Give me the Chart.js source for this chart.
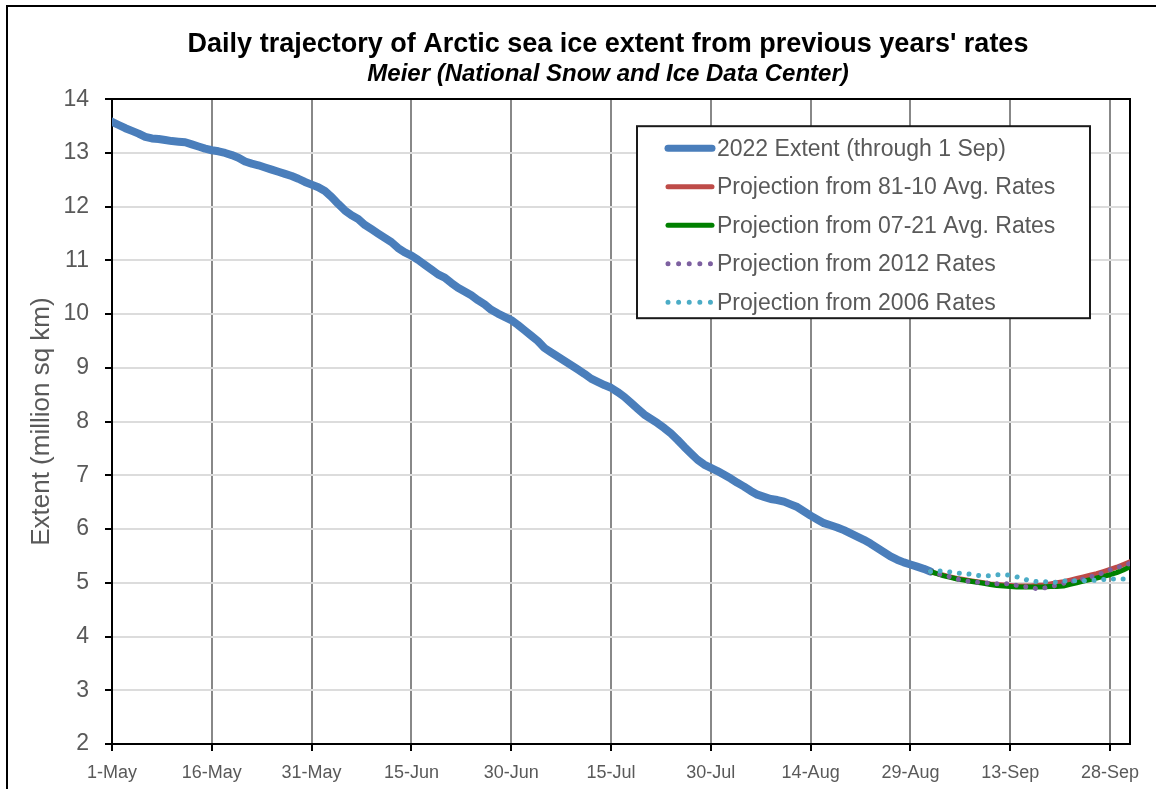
<!DOCTYPE html>
<html>
<head>
<meta charset="utf-8">
<title>Daily trajectory of Arctic sea ice extent</title>
<script src="https://cdn.jsdelivr.net/npm/chart.js@4.4.1/dist/chart.umd.min.js"></script>
<style>
  html, body { margin: 0; padding: 0; background: #fff; overflow: hidden; }
  #wrap { position: relative; width: 1156px; height: 789px; overflow: hidden; }
  #wrap canvas { position: absolute; left: 0; top: 0; }
  #frame { position: absolute; left: 6px; top: 5px; width: 1200px; height: 900px;
           border: 2px solid #000; pointer-events: none; }
</style>
</head>
<body>
<div id="wrap">
  <canvas id="chart" width="1156" height="789"></canvas>
  <div id="frame"></div>
</div>
<script>
// Day 0 = 1 May; the axis runs to 1 Oct (day 153).
const axisEndDay = 153;
const tickStepDays = 15;
const tickLabels = ['1-May', '16-May', '31-May', '15-Jun', '30-Jun', '15-Jul',
                    '30-Jul', '14-Aug', '29-Aug', '13-Sep', '28-Sep'];

// 2022 daily extent (million sq km), 1 May .. 1 Sep
const extent2022 = [
  13.58, 13.52, 13.46, 13.41, 13.36, 13.30, 13.27, 13.26, 13.24, 13.22,
  13.21, 13.20, 13.16, 13.12, 13.08, 13.05, 13.03, 13.00, 12.96, 12.91,
  12.84, 12.80, 12.77, 12.73, 12.69, 12.65, 12.61, 12.57, 12.52, 12.46,
  12.41, 12.36, 12.29, 12.18, 12.05, 11.93, 11.84, 11.77, 11.66, 11.58,
  11.50, 11.42, 11.34, 11.23, 11.15, 11.09, 11.01, 10.92, 10.83, 10.74,
  10.68, 10.58, 10.49, 10.42, 10.35, 10.26, 10.18, 10.08, 10.01, 9.95,
  9.89, 9.80, 9.70, 9.60, 9.50, 9.37, 9.29, 9.21, 9.13, 9.05,
  8.97, 8.89, 8.80, 8.74, 8.68, 8.63, 8.55, 8.46, 8.35, 8.24,
  8.13, 8.05, 7.97, 7.88, 7.78, 7.66, 7.53, 7.41, 7.29, 7.20,
  7.14, 7.08, 7.01, 6.94, 6.86, 6.79, 6.71, 6.64, 6.60, 6.56,
  6.54, 6.51, 6.46, 6.41, 6.33, 6.25, 6.18, 6.11, 6.07, 6.03,
  5.98, 5.92, 5.86, 5.80, 5.73, 5.65, 5.57, 5.49, 5.43, 5.38,
  5.34, 5.30, 5.26, 5.21
];

// Projections start on 1 Sep (day 123) and run to 1 Oct
const projectionStartDay = 123;
const proj8110 = [
  5.21, 5.17, 5.14, 5.11, 5.08, 5.06, 5.04, 5.02, 5.00, 4.98,
  4.97, 4.96, 4.95, 4.94, 4.94, 4.94, 4.95, 4.96, 4.98, 5.00,
  5.02, 5.05, 5.08, 5.11, 5.14, 5.17, 5.21, 5.25, 5.29, 5.34, 5.39
];
const proj0721 = [
  5.21, 5.17, 5.13, 5.10, 5.07, 5.05, 5.03, 5.01, 4.99, 4.97,
  4.95, 4.94, 4.93, 4.92, 4.92, 4.92, 4.92, 4.92, 4.93, 4.93,
  4.94, 4.97, 5.00, 5.03, 5.06, 5.09, 5.12, 5.15, 5.19, 5.24, 5.30
];
const proj2012 = [
  5.21, 5.17, 5.14, 5.11, 5.07, 5.04, 5.02, 5.01, 5.00, 4.99,
  4.98, 4.98, 4.98, 4.95, 4.93, 4.92, 4.89, 4.90, 4.93, 4.95,
  4.99, 5.03, 5.04, 5.07, 5.11, 5.14, 5.19, 5.24, 5.28, 5.32, 5.36
];
const proj2006 = [
  5.21, 5.22, 5.22, 5.20, 5.18, 5.17, 5.16, 5.14, 5.13, 5.13,
  5.15, 5.15, 5.14, 5.11, 5.07, 5.04, 5.02, 5.02, 5.02, 5.01,
  5.03, 5.04, 5.04, 5.04, 5.04, 5.05, 5.06, 5.07, 5.07, 5.07, 5.07
];

const seriesLabels = [
  '2022 Extent (through 1 Sep)',
  'Projection from 81-10 Avg. Rates',
  'Projection from 07-21 Avg. Rates',
  'Projection from 2012 Rates',
  'Projection from 2006 Rates'
];

const FONT = "'Liberation Sans', Arial, Helvetica, sans-serif";
const TEXT_GREY = '#595959';

const toPoints = (values, startDay) => values.map((v, i) => ({ x: startDay + i, y: v }));

// Framed legend inside the plot, drawn from the dataset styles
const boxLegend = {
  id: 'boxLegend',
  afterDraw(chart) {
    const { ctx, chartArea: ca } = chart;
    const w = 453, h = 192;
    const x0 = ca.right - 40 - w;
    const y0 = ca.top + 27;
    ctx.save();
    ctx.fillStyle = '#ffffff';
    ctx.fillRect(x0, y0, w, h);
    ctx.lineWidth = 2;
    ctx.strokeStyle = '#1a1a1a';
    ctx.strokeRect(x0, y0, w, h);
    ctx.font = '23px ' + FONT;
    ctx.textBaseline = 'middle';
    ctx.textAlign = 'left';
    chart.data.datasets.forEach((ds, i) => {
      const cy = y0 + 22 + i * 38.5;
      ctx.beginPath();
      ctx.strokeStyle = ds.borderColor;
      ctx.lineWidth = ds.legendLineWidth;
      ctx.lineCap = 'round';
      ctx.setLineDash(ds.borderDash ? [0.01, 10.6] : []);
      ctx.moveTo(x0 + 31, cy);
      ctx.lineTo(x0 + 75, cy);
      ctx.stroke();
      ctx.setLineDash([]);
      ctx.fillStyle = TEXT_GREY;
      ctx.fillText(ds.label, x0 + 80, cy + 1);
    });
    ctx.restore();
  }
};

const dotted = [0.01, 9.7];

new Chart(document.getElementById('chart'), {
  type: 'line',
  data: {
    datasets: [
      { label: seriesLabels[0], data: toPoints(extent2022, 0),
        borderColor: '#4a7ebb', borderWidth: 8, legendLineWidth: 7, order: 5,
        borderCapStyle: 'round', borderJoinStyle: 'round' },
      { label: seriesLabels[1], data: toPoints(proj8110, projectionStartDay),
        borderColor: '#be4b48', borderWidth: 5, legendLineWidth: 5, order: 4,
        borderCapStyle: 'round', borderJoinStyle: 'round' },
      { label: seriesLabels[2], data: toPoints(proj0721, projectionStartDay),
        borderColor: '#008000', borderWidth: 5, legendLineWidth: 5, order: 3,
        borderCapStyle: 'round', borderJoinStyle: 'round' },
      { label: seriesLabels[3], data: toPoints(proj2012, projectionStartDay),
        borderColor: '#7d60a0', borderWidth: 5, legendLineWidth: 5, order: 2,
        borderDash: dotted, borderCapStyle: 'round' },
      { label: seriesLabels[4], data: toPoints(proj2006, projectionStartDay),
        borderColor: '#4bacc6', borderWidth: 5, legendLineWidth: 5, order: 1,
        borderDash: dotted, borderCapStyle: 'round' }
    ]
  },
  options: {
    responsive: false,
    animation: false,
    devicePixelRatio: 1,
    // left padding centres the headings over the framed panel
    layout: { padding: { left: 60, right: 0, top: 0, bottom: 0 } },
    elements: {
      line: { tension: 0, fill: false },
      point: { radius: 0, hoverRadius: 0 }
    },
    plugins: {
      legend: { display: false },
      tooltip: { enabled: false },
      title: {
        display: true,
        text: "Daily trajectory of Arctic sea ice extent from previous years' rates",
        color: '#000',
        font: { family: FONT, size: 27, weight: 'bold' },
        padding: { top: 28, bottom: 0 }
      },
      subtitle: {
        display: true,
        text: 'Meier (National Snow and Ice Data Center)',
        color: '#000',
        font: { family: FONT, size: 24, weight: 'bold', style: 'italic' },
        padding: { top: 0, bottom: 10 }
      }
    },
    scales: {
      x: {
        type: 'linear',
        min: 0,
        max: axisEndDay,
        afterBuildTicks: (s) => {
          s.ticks = tickLabels.map((_, i) => ({ value: i * tickStepDays }));
        },
        afterFit: (s) => { s.height = 45; },
        ticks: {
          autoSkip: false,
          maxRotation: 0,
          padding: 11,
          color: TEXT_GREY,
          font: { family: FONT, size: 18 },
          callback: (v) => tickLabels[Math.round(v / tickStepDays)]
        },
        grid: { color: '#888888', lineWidth: 2, tickLength: 7, tickColor: '#000', tickWidth: 2 },
        border: { color: '#000', width: 2 }
      },
      y: {
        min: 2,
        max: 14,
        afterFit: (s) => { s.width = 52; },
        ticks: {
          stepSize: 1,
          padding: 16,
          color: TEXT_GREY,
          font: { family: FONT, size: 23 }
        },
        grid: { color: '#dcdcdc', lineWidth: 2, tickLength: 7, tickColor: '#000', tickWidth: 2 },
        border: { color: '#000', width: 2 },
        title: {
          display: true,
          text: 'Extent (million sq km)',
          color: TEXT_GREY,
          font: { family: FONT, size: 26 },
          padding: { top: -33.6, bottom: 0 }
        }
      },
      xTop: {
        type: 'linear',
        position: 'top',
        min: 0,
        max: axisEndDay,
        afterFit: (s) => { s.height = 0; },
        ticks: { display: false },
        grid: { display: false },
        border: { color: '#000', width: 2 }
      },
      yRight: {
        type: 'linear',
        position: 'right',
        min: 2,
        max: 14,
        afterFit: (s) => { s.width = 26; },
        ticks: { display: false },
        grid: { display: false },
        border: { color: '#000', width: 2 }
      }
    }
  },
  plugins: [boxLegend]
});
</script>
</body>
</html>
